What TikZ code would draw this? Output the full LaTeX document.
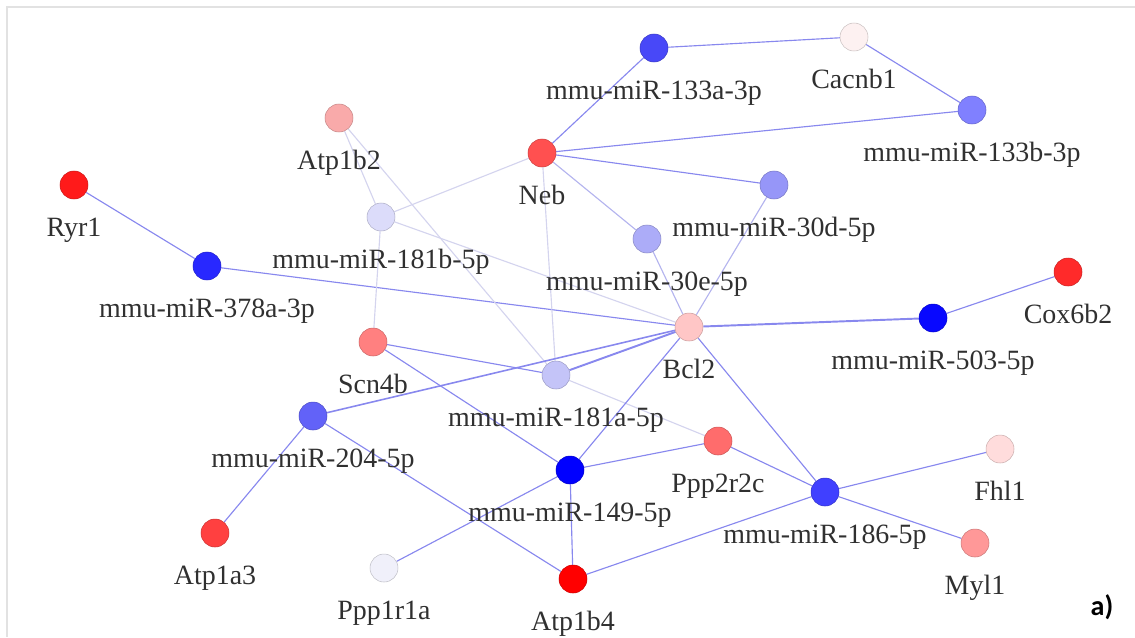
\documentclass[tikz,border=0pt]{standalone}
\usepackage{fontspec}
\setmainfont{Liberation Serif}
\newfontfamily\panelfont{Carlito}
\usetikzlibrary{backgrounds}

% node fills (red = gene, blue = miRNA)
\definecolor{cRyr}{HTML}{FF1A1A}
\definecolor{cMirA}{HTML}{2828FF}
\definecolor{cAtpBb}{HTML}{F9AAAA}
\definecolor{cMirBb}{HTML}{DCDCFA}
\definecolor{cNeb}{HTML}{FF5050}
\definecolor{cMirC}{HTML}{4848F8}
\definecolor{cCac}{HTML}{FDF1F1}
\definecolor{cMirD}{HTML}{8080FF}
\definecolor{cMirE}{HTML}{9696F8}
\definecolor{cMirF}{HTML}{ACACF8}
\definecolor{cBcl}{HTML}{FFC6C6}
\definecolor{cMirG}{HTML}{0808FF}
\definecolor{cCox}{HTML}{FF2A2A}
\definecolor{cScn}{HTML}{FF8080}
\definecolor{cMirH}{HTML}{C4C4F8}
\definecolor{cMirI}{HTML}{6262F8}
\definecolor{cPpc}{HTML}{FF6C6C}
\definecolor{cMirJ}{HTML}{0000FF}
\definecolor{cMirK}{HTML}{4040FF}
\definecolor{cFhl}{HTML}{FFDCDC}
\definecolor{cMyl}{HTML}{FF9898}
\definecolor{cAtpA}{HTML}{FF4040}
\definecolor{cPpa}{HTML}{F0F0FA}
\definecolor{cAtpB}{HTML}{FF0000}
% edges, text, frame
\definecolor{LinkBlue}{HTML}{8888EE}
\definecolor{LinkMid}{HTML}{B4B4EE}
\definecolor{LinkPale}{HTML}{D4D4EE}
\definecolor{TextGray}{HTML}{303030}
\definecolor{FrameGray}{HTML}{E2E2E2}

\tikzset{
    gene/.style={
        circle,
        draw=#1!80!black,
        fill=#1,
        minimum size=0.56cm,
        inner sep=0pt,
        line width=0.3pt
    },
    tag/.style={
        font=\fontsize{15.9}{18}\selectfont,
        text=TextGray,
        inner sep=0pt,
        text height=0.68em,
        text depth=0.22em,
        label distance=0.5cm
    },
    link/.style={
        draw=LinkBlue,
        line width=0.65pt
    },
    midlink/.style={
        draw=LinkMid,
        line width=0.65pt
    },
    palelink/.style={
        draw=LinkPale,
        line width=0.65pt
    },
    heavylink/.style={
        draw=LinkBlue,
        line width=1.1pt
    }
}

\begin{document}
\begin{tikzpicture}[x=0.02cm, y=-0.02cm]
    \useasboundingbox (0,0) rectangle (1135,637);
    \draw[FrameGray, line width=1.2pt] (7,637) -- (7,7) -- (1135,7);

    % genes
    \node[gene=cRyr, label={[tag]below:Ryr1}] (ryr1) at (74,185) {};
    \node[gene=cAtpBb, label={[tag]below:Atp1b2}] (atp1b2) at (339,118) {};
    \node[gene=cNeb, label={[tag]below:Neb}] (neb) at (542,153) {};
    \node[gene=cCac, label={[tag]below:Cacnb1}] (cacnb1) at (854,37) {};
    \node[gene=cBcl, label={[tag]below:Bcl2}] (bcl2) at (689,327) {};
    \node[gene=cCox, label={[tag]below:Cox6b2}] (cox6b2) at (1068,272) {};
    \node[gene=cScn, label={[tag]below:Scn4b}] (scn4b) at (373,342) {};
    \node[gene=cPpc, label={[tag]below:Ppp2r2c}] (ppp2r2c) at (718,441) {};
    \node[gene=cFhl, label={[tag]below:Fhl1}] (fhl1) at (1000,449) {};
    \node[gene=cMyl, label={[tag]below:Myl1}] (myl1) at (975,543) {};
    \node[gene=cAtpA, label={[tag]below:Atp1a3}] (atp1a3) at (215,533) {};
    \node[gene=cPpa, label={[tag]below:Ppp1r1a}] (ppp1r1a) at (384,568) {};
    \node[gene=cAtpB, label={[tag]below:Atp1b4}] (atp1b4) at (573,579) {};

    % miRNAs
    \node[gene=cMirA, label={[tag]below:mmu-miR-378a-3p}] (mir378a) at (207,266) {};
    \node[gene=cMirBb, label={[tag]below:mmu-miR-181b-5p}] (mir181b) at (381,217) {};
    \node[gene=cMirC, label={[tag]below:mmu-miR-133a-3p}] (mir133a) at (654,48) {};
    \node[gene=cMirD, label={[tag]below:mmu-miR-133b-3p}] (mir133b) at (972,110) {};
    \node[gene=cMirE, label={[tag]below:mmu-miR-30d-5p}] (mir30d) at (774,185) {};
    \node[gene=cMirF, label={[tag]below:mmu-miR-30e-5p}] (mir30e) at (647,239) {};
    \node[gene=cMirG, label={[tag]below:mmu-miR-503-5p}] (mir503) at (933,318) {};
    \node[gene=cMirH, label={[tag]below:mmu-miR-181a-5p}] (mir181a) at (556,375) {};
    \node[gene=cMirI, label={[tag]below:mmu-miR-204-5p}] (mir204) at (313,416) {};
    \node[gene=cMirJ, label={[tag]below:mmu-miR-149-5p}] (mir149) at (570,470) {};
    \node[gene=cMirK, label={[tag]below:mmu-miR-186-5p}] (mir186) at (825,492) {};

    \node[font=\panelfont\fontsize{16}{18}\selectfont\bfseries] (panel) at (1102,607) {a)};

    % interactions
    \begin{scope}[on background layer]
        \draw[link] (ryr1) -- (mir378a);
        \draw[link] (mir378a) -- (bcl2);
        \draw[link] (mir133a) -- (cacnb1);
        \draw[link] (cacnb1) -- (mir133b);
        \draw[link] (mir133a) -- (neb);
        \draw[link] (neb) -- (mir133b);
        \draw[link] (neb) -- (mir30d);
        \draw[midlink] (neb) -- (mir30e);
        \draw[palelink] (neb) -- (mir181b);
        \draw[palelink] (neb) -- (mir181a);
        \draw[palelink] (atp1b2) -- (mir181b);
        \draw[palelink] (atp1b2) -- (mir181a);
        \draw[palelink] (mir181b) -- (bcl2);
        \draw[palelink] (mir181b) -- (scn4b);
        \draw[midlink] (mir30e) -- (bcl2);
        \draw[midlink] (mir30d) -- (bcl2);
        \draw[heavylink] (bcl2) -- (mir503);
        \draw[link] (mir503) -- (cox6b2);
        \draw[link] (scn4b) -- (mir181a);
        \draw[link] (scn4b) -- (mir149);
        \draw[heavylink] (mir181a) -- (bcl2);
        \draw[link, line width=0.9pt] (mir204) -- (bcl2);
        \draw[palelink] (mir181a) -- (ppp2r2c);
        \draw[link] (mir204) -- (atp1a3);
        \draw[link] (mir204) -- (atp1b4);
        \draw[link] (bcl2) -- (mir149);
        \draw[link] (bcl2) -- (mir186);
        \draw[link] (mir149) -- (ppp2r2c);
        \draw[link] (mir149) -- (atp1b4);
        \draw[link] (mir149) -- (ppp1r1a);
        \draw[link] (ppp2r2c) -- (mir186);
        \draw[link] (atp1b4) -- (mir186);
        \draw[link] (mir186) -- (fhl1);
        \draw[link] (mir186) -- (myl1);
    \end{scope}
\end{tikzpicture}
\end{document}
